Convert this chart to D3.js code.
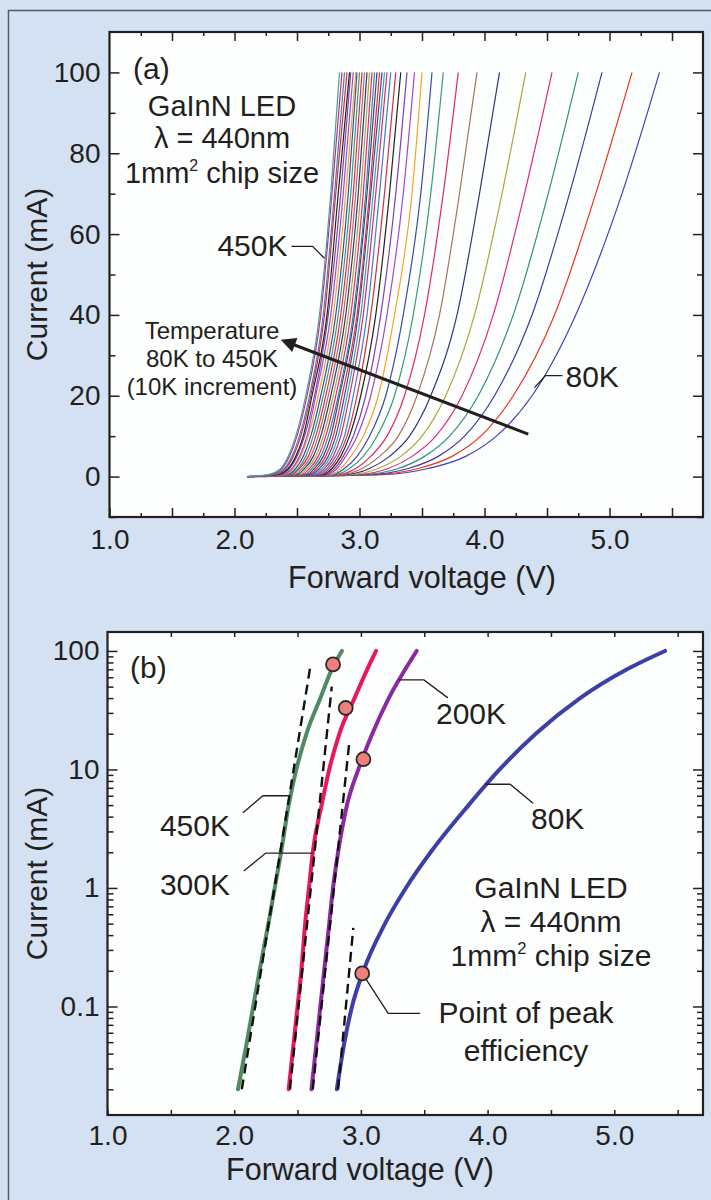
<!DOCTYPE html>
<html>
<head>
<meta charset="utf-8">
<script src="https://cdn.jsdelivr.net/npm/d3@7"></script>
<style>
  body { margin: 0; background: #d4e1f2; }
  svg { display: block; font-family: "Liberation Sans", Arial, sans-serif; }
  .tick text { font-size: 28px; fill: #231f20; }
  .tick line { stroke: #231f20; stroke-width: 1.5; }
  .note { font-size: 30px; fill: #231f20; }
  .leader { fill: none; stroke: #231f20; stroke-width: 1.3; }
</style>
</head>
<body>
<svg id="chart" width="711" height="1200"></svg>
<script>
// ---------- data ----------
// (a) I-V curves, 80K to 450K in 10K steps, voltage read at fixed currents
const TEMPS_A = [80, 90, 100, 110, 120, 130, 140, 150, 160, 170, 180, 190, 200,
  210, 220, 230, 240, 250, 260, 270, 280, 290, 300, 310, 320, 330, 340, 350,
  360, 370, 380, 390, 400, 410, 420, 430, 440, 450];
const CURRENT_A = [0, 0.5, 2, 5, 10, 20, 40, 70, 100];
const VOLT_A = [
  [2.10, 3.19, 3.55, 3.85, 4.095, 4.38, 4.73, 5.10, 5.40],
  [2.10, 3.13, 3.47, 3.74, 3.97, 4.23, 4.56, 4.89, 5.18],
  [2.10, 3.07, 3.39, 3.63, 3.84, 4.08, 4.38, 4.68, 4.94],
  [2.10, 3.02, 3.31, 3.52, 3.72, 3.95, 4.23, 4.51, 4.75],
  [2.10, 2.97, 3.23, 3.42, 3.61, 3.82, 4.07, 4.32, 4.54],
  [2.10, 2.93, 3.15, 3.33, 3.50, 3.69, 3.92, 4.14, 4.33],
  [2.10, 2.89, 3.08, 3.24, 3.40, 3.57, 3.78, 3.96, 4.12],
  [2.10, 2.86, 3.02, 3.16, 3.31, 3.46, 3.64, 3.80, 3.94],
  [2.10, 2.83, 2.97, 3.09, 3.22, 3.36, 3.52, 3.67, 3.79],
  [2.10, 2.81, 2.92, 3.03, 3.14, 3.28, 3.43, 3.57, 3.67],
  [2.10, 2.79, 2.88, 2.98, 3.08, 3.21, 3.35, 3.49, 3.58],
  [2.10, 2.77, 2.85, 2.93, 3.03, 3.15, 3.28, 3.42, 3.50],
  [2.10, 2.75, 2.82, 2.89, 2.98, 3.09, 3.22, 3.35, 3.44],
  [2.10, 2.73, 2.80, 2.87, 2.95, 3.05, 3.17, 3.29, 3.38],
  [2.10, 2.71, 2.78, 2.85, 2.92, 3.01, 3.13, 3.24, 3.33],
  [2.10, 2.69, 2.76, 2.83, 2.90, 2.98, 3.09, 3.20, 3.29],
  [2.10, 2.67, 2.74, 2.81, 2.88, 2.95, 3.06, 3.16, 3.25],
  [2.10, 2.65, 2.72, 2.79, 2.85, 2.92, 3.03, 3.13, 3.22],
  [2.10, 2.63, 2.70, 2.77, 2.83, 2.90, 3.01, 3.11, 3.20],
  [2.10, 2.61, 2.68, 2.75, 2.81, 2.88, 2.99, 3.09, 3.18],
  [2.10, 2.59, 2.66, 2.73, 2.79, 2.86, 2.98, 3.08, 3.16],
  [2.10, 2.58, 2.64, 2.71, 2.77, 2.84, 2.96, 3.06, 3.14],
  [2.10, 2.56, 2.62, 2.69, 2.75, 2.83, 2.95, 3.05, 3.12],
  [2.10, 2.54, 2.60, 2.67, 2.73, 2.81, 2.93, 3.03, 3.10],
  [2.10, 2.52, 2.58, 2.65, 2.71, 2.79, 2.91, 3.01, 3.08],
  [2.10, 2.50, 2.56, 2.63, 2.69, 2.77, 2.89, 2.99, 3.06],
  [2.10, 2.48, 2.54, 2.61, 2.67, 2.75, 2.87, 2.97, 3.04],
  [2.10, 2.46, 2.52, 2.59, 2.65, 2.73, 2.85, 2.95, 3.02],
  [2.10, 2.44, 2.51, 2.57, 2.63, 2.71, 2.83, 2.93, 3.00],
  [2.10, 2.42, 2.49, 2.55, 2.61, 2.69, 2.81, 2.91, 2.98],
  [2.10, 2.40, 2.47, 2.53, 2.59, 2.67, 2.79, 2.89, 2.97],
  [2.10, 2.38, 2.46, 2.52, 2.58, 2.65, 2.77, 2.87, 2.95],
  [2.10, 2.36, 2.44, 2.50, 2.56, 2.64, 2.75, 2.85, 2.93],
  [2.10, 2.34, 2.43, 2.49, 2.55, 2.62, 2.74, 2.83, 2.92],
  [2.10, 2.32, 2.41, 2.47, 2.53, 2.61, 2.72, 2.81, 2.90],
  [2.10, 2.30, 2.40, 2.46, 2.52, 2.60, 2.71, 2.80, 2.88],
  [2.10, 2.28, 2.38, 2.44, 2.50, 2.58, 2.69, 2.78, 2.86],
  [2.10, 2.27, 2.37, 2.43, 2.49, 2.57, 2.68, 2.77, 2.84],
];
const COLORS_A = ["#4242b4", "#e8321e", "#3c3c96", "#2f8f80", "#e0267e", "#b0a43a",
  "#34347e", "#a6745e", "#e2285e", "#3c9c6c", "#3a4aa8", "#f2a428", "#a04ac8",
  "#7b44b0", "#222222", "#d83030", "#4a78c8", "#c2307e", "#46a0a0"];

// (b) log plot, four temperatures
const CURRENT_B = [0.02, 0.05, 0.1, 0.2, 0.5, 1, 2, 5, 10, 20, 40, 70, 100];
const VOLT_B_450 = [2.03, 2.10, 2.15, 2.20, 2.27, 2.32, 2.37, 2.43, 2.49, 2.57, 2.68, 2.77, 2.85];
const VOLT_B_300 = [2.43, 2.47, 2.50, 2.53, 2.56, 2.59, 2.62, 2.69, 2.75, 2.83, 2.95, 3.05, 3.12];
const VOLT_B_200 = [2.61, 2.65, 2.68, 2.71, 2.75, 2.78, 2.82, 2.89, 2.98, 3.09, 3.22, 3.35, 3.44];
const VOLT_B_80 = [2.81, 2.87, 2.93, 3.02, 3.19, 3.355, 3.55, 3.85, 4.095, 4.38, 4.73, 5.10, 5.40];

// ideal-diode dashed lines [V, I]
const DASH_450 = [[2.06, 0.02], [2.60, 73]];
const DASH_300 = [[2.44, 0.02], [2.77, 50]];
const DASH_200 = [[2.62, 0.02], [2.91, 17.6]];
const DASH_80 = [[2.82, 0.02], [2.94, 0.46]];

// points of peak efficiency
const PEAK_V = [2.78, 2.88, 3.02, 3.01];
const PEAK_I = [77, 33, 12.2, 0.19];

// ticks
const X_MAJOR = [1.5, 2, 2.5, 3, 3.5, 4, 4.5, 5, 5.5];
const X_MINOR_A = [1.25, 1.75, 2.25, 2.75, 3.25, 3.75, 4.25, 4.75, 5.25];
const X_LABELS = [1, 2, 3, 4, 5];
const Y_MAJOR_A = [0, 20, 40, 60, 80, 100];
const Y_MINOR_A = [-10, 10, 30, 50, 70, 90];
const Y_MAJOR_B = [0.1, 1, 10, 100];
const Y_LABELS_B = ["0.1", "1", "10", "100"];

// ---------- layout ----------
const BOX_A = { left: 109.5, right: 703, top: 32, bottom: 517 };
const BOX_B = { left: 107.5, right: 703, top: 632, bottom: 1115 };
const INK = "#231f20";

const xA = d3.scaleLinear().domain([1, 5.75]).range([BOX_A.left, BOX_A.left + 4.75 * 125]);
const yA = d3.scaleLinear().domain([-10, 110]).range([BOX_A.bottom, BOX_A.top]);
const xB = d3.scaleLinear().domain([1, 5.70]).range([BOX_B.left, BOX_B.right]);
const yB = d3.scaleLog().domain([0.01214, 144.5]).range([BOX_B.bottom, BOX_B.top]);

const svg = d3.select("#chart");
svg.append("defs").append("marker")
  .attr("id", "arrow")
  .attr("viewBox", "0 0 10 10")
  .attr("refX", 2).attr("refY", 5)
  .attr("markerWidth", 6).attr("markerHeight", 5)
  .attr("orient", "auto-start-reverse")
  .append("path").attr("d", "M0,0 L10,5 L0,10 z").attr("fill", INK);

// outer panel
svg.append("rect")
  .attr("x", 8.5).attr("y", 10.5).attr("width", 720).attr("height", 1210)
  .attr("fill", "#d4e1f2").attr("stroke", "#5a5a5a").attr("stroke-width", 1.5);

function plotBg(box) {
  svg.append("rect")
    .attr("x", box.left).attr("y", box.top)
    .attr("width", box.right - box.left).attr("height", box.bottom - box.top)
    .attr("fill", "#fdfefe");
}

function frame(box) {
  svg.append("rect")
    .attr("x", box.left).attr("y", box.top)
    .attr("width", box.right - box.left).attr("height", box.bottom - box.top)
    .attr("fill", "none").attr("stroke", INK).attr("stroke-width", 2.2);
}

function addAxis(axis, tx, ty) {
  const g = svg.append("g").attr("transform", `translate(${tx},${ty})`).call(axis);
  g.select(".domain").remove();
  g.selectAll(".tick text").style("font-size", "28px").attr("fill", INK);
  return g;
}

function leader(x0, y0, pts) {
  const p = d3.path();
  p.moveTo(x0, y0);
  pts.forEach(([dx, dy]) => p.lineTo(x0 + dx, y0 + dy));
  svg.append("path").attr("class", "leader").attr("d", p.toString());
}

function textLines(x, ys, lines, size, anchor) {
  lines.forEach((ln, i) => {
    const t = svg.append("text").attr("class", "note")
      .attr("x", x).attr("y", ys[i])
      .attr("text-anchor", anchor || "middle")
      .style("font-size", `${size}px`);
    if (Array.isArray(ln)) {
      // [before, superscript, after]
      t.append("tspan").text(ln[0]);
      t.append("tspan").attr("dy", -12).style("font-size", `${size * 0.55}px`).text(ln[1]);
      t.append("tspan").attr("dy", 12).text(ln[2]);
    } else {
      t.text(ln);
    }
  });
}

// ================= panel (a) =================
plotBg(BOX_A);

const lineA = d3.line().curve(d3.curveMonotoneX)
  .x((d) => xA(d[0])).y((d) => yA(d[1]));

svg.append("g").selectAll("path")
  .data(TEMPS_A)
  .join("path")
  .attr("fill", "none")
  .attr("stroke", (d, i) => COLORS_A[i % COLORS_A.length])
  .attr("stroke-width", 1.2)
  .attr("d", (d, i) => lineA(CURRENT_A.map((c, j) => [VOLT_A[i][j], c])));

const fmtX = (d) => (X_LABELS.includes(d) ? d.toFixed(1) : "");
addAxis(d3.axisBottom(xA).tickValues([1, ...X_MAJOR]).tickSize(-9).tickSizeOuter(0)
  .tickPadding(12).tickFormat(fmtX), 0, BOX_A.bottom);
addAxis(d3.axisBottom(xA).tickValues(X_MINOR_A).tickSize(-4).tickSizeOuter(0).tickFormat(""), 0, BOX_A.bottom);
addAxis(d3.axisTop(xA).tickValues(X_MAJOR).tickSize(-9).tickSizeOuter(0).tickFormat(""), 0, BOX_A.top);
addAxis(d3.axisTop(xA).tickValues(X_MINOR_A).tickSize(-4).tickSizeOuter(0).tickFormat(""), 0, BOX_A.top);
addAxis(d3.axisLeft(yA).tickValues(Y_MAJOR_A).tickSize(-10).tickSizeOuter(0).tickPadding(9), BOX_A.left, 0);
addAxis(d3.axisLeft(yA).tickValues(Y_MINOR_A).tickSize(-6).tickSizeOuter(0).tickFormat(""), BOX_A.left, 0);
addAxis(d3.axisRight(yA).tickValues(Y_MAJOR_A).tickSize(-10).tickSizeOuter(0).tickFormat(""), BOX_A.right, 0);
addAxis(d3.axisRight(yA).tickValues(Y_MINOR_A).tickSize(-6).tickSizeOuter(0).tickFormat(""), BOX_A.right, 0);
frame(BOX_A);

svg.append("text").attr("class", "note")
  .attr("transform", `translate(36,${(BOX_A.top + BOX_A.bottom) / 2}) rotate(-90)`)
  .attr("text-anchor", "middle").attr("dy", "0.35em")
  .text("Current (mA)");
svg.append("text").attr("class", "note")
  .attr("x", 422).attr("y", 588).attr("text-anchor", "middle")
  .style("font-size", "30.5px")
  .text("Forward voltage (V)");

textLines(133, [79], ["(a)"], 30, "start");
textLines(222, [116, 148, 183], ["GaInN LED", "λ = 440nm", ["1mm", "2", " chip size"]], 29);
textLines(212, [339, 367, 395], ["Temperature", "80K to 450K", "(10K increment)"], 24);

// 450K label
{
  const ax = xA(2.72), ay = yA(54);
  leader(ax, ay, [[-12, -12], [-33, -12]]);
  textLines(ax - 37, [ay - 2], ["450K"], 30, "end");
}
// 80K label
{
  const ax = xA(4.40), ay = yA(22);
  leader(ax, ay, [[11, -12], [28, -12]]);
  textLines(ax + 31, [ay - 1], ["80K"], 30, "start");
}
// temperature arrow
const ARROW_A = [[4.35, 10.5], [2.46, 32.8]];
svg.append("line")
  .attr("x1", xA(ARROW_A[0][0])).attr("y1", yA(ARROW_A[0][1]))
  .attr("x2", xA(ARROW_A[1][0])).attr("y2", yA(ARROW_A[1][1]))
  .attr("stroke", INK).attr("stroke-width", 3)
  .attr("marker-end", "url(#arrow)");

// ================= panel (b) =================
plotBg(BOX_B);

const lineB = d3.line().curve(d3.curveMonotoneX)
  .x((d) => xB(d[0])).y((d) => yB(d[1]));

const SERIES_B = [
  { volt: VOLT_B_450, color: "#4f8a60" },
  { volt: VOLT_B_300, color: "#e8185a" },
  { volt: VOLT_B_200, color: "#8b2aa0" },
  { volt: VOLT_B_80, color: "#3d3fa8" },
];
svg.append("g").selectAll("path")
  .data(SERIES_B)
  .join("path")
  .attr("fill", "none")
  .attr("stroke", (d) => d.color)
  .attr("stroke-width", 4)
  .attr("stroke-linecap", "round")
  .attr("d", (d) => lineB(CURRENT_B.map((c, j) => [d.volt[j], c])));

svg.append("g").selectAll("path")
  .data([DASH_450, DASH_300, DASH_200, DASH_80])
  .join("path")
  .attr("fill", "none")
  .attr("stroke", "#111")
  .attr("stroke-width", 2.4)
  .attr("stroke-dasharray", "10,6")
  .attr("d", (d) => d3.line().x((p) => xB(p[0])).y((p) => yB(p[1]))(d));

addAxis(d3.axisBottom(xB).tickValues([1, ...X_MAJOR]).tickSize(-5).tickSizeOuter(0)
  .tickPadding(10).tickFormat(fmtX), 0, BOX_B.bottom);
addAxis(d3.axisTop(xB).tickValues(X_MAJOR).tickSize(-5).tickSizeOuter(0).tickFormat(""), 0, BOX_B.top);

const yMinorB = yB.ticks().filter((t) => !Y_MAJOR_B.some((m) => Math.abs(m - t) < 1e-9));
addAxis(d3.axisLeft(yB).tickValues(Y_MAJOR_B).tickSize(-10).tickSizeOuter(0).tickPadding(8)
  .tickFormat((d, i) => Y_LABELS_B[i]), BOX_B.left, 0);
addAxis(d3.axisLeft(yB).tickValues(yMinorB).tickSize(-6).tickSizeOuter(0).tickFormat(""), BOX_B.left, 0);
addAxis(d3.axisRight(yB).tickValues(Y_MAJOR_B).tickSize(-10).tickSizeOuter(0).tickFormat(""), BOX_B.right, 0);
addAxis(d3.axisRight(yB).tickValues(yMinorB).tickSize(-6).tickSizeOuter(0).tickFormat(""), BOX_B.right, 0);
frame(BOX_B);

svg.append("g").selectAll("circle")
  .data(PEAK_V)
  .join("circle")
  .attr("cx", (d) => xB(d))
  .attr("cy", (d, i) => yB(PEAK_I[i]))
  .attr("r", 7)
  .attr("fill", "#ee7f7a")
  .attr("stroke", "#2a2a2a")
  .attr("stroke-width", 1.8);

svg.append("text").attr("class", "note")
  .attr("transform", `translate(36,${(BOX_B.top + BOX_B.bottom) / 2}) rotate(-90)`)
  .attr("text-anchor", "middle").attr("dy", "0.35em")
  .text("Current (mA)");
svg.append("text").attr("class", "note")
  .attr("x", 360).attr("y", 1180).attr("text-anchor", "middle")
  .style("font-size", "30.5px")
  .text("Forward voltage (V)");

textLines(130, [678], ["(b)"], 30, "start");
textLines(551, [898, 932, 966], ["GaInN LED", "λ = 440nm", ["1mm", "2", " chip size"]], 30);

// curve labels
{
  const ax = xB(2.44), ay = yB(6);
  leader(ax, ay, [[-27, 0], [-47, 17]]);
  textLines(230, [ay + 40], ["450K"], 30, "end");
}
{
  const ax = xB(2.62), ay = yB(1.97);
  leader(ax, ay, [[-47, 0], [-69, 18]]);
  textLines(230, [ay + 42], ["300K"], 30, "end");
}
{
  const ax = xB(3.30), ay = yB(57);
  leader(ax, ay, [[25, 0], [49, 18]]);
  textLines(436, [ay + 44], ["200K"], 30, "start");
}
{
  const ax = xB(3.98), ay = yB(7.5);
  leader(ax, ay, [[25, 0], [48, 19]]);
  textLines(531, [ay + 45], ["80K"], 30, "start");
}
{
  const ax = xB(PEAK_V[3]), ay = yB(PEAK_I[3]);
  leader(ax + 4, ay + 6, [[22, 34], [54, 34]]);
  textLines(526, [ay + 50, ay + 88], ["Point of peak", "efficiency"], 30);
}
</script>
</body>
</html>
